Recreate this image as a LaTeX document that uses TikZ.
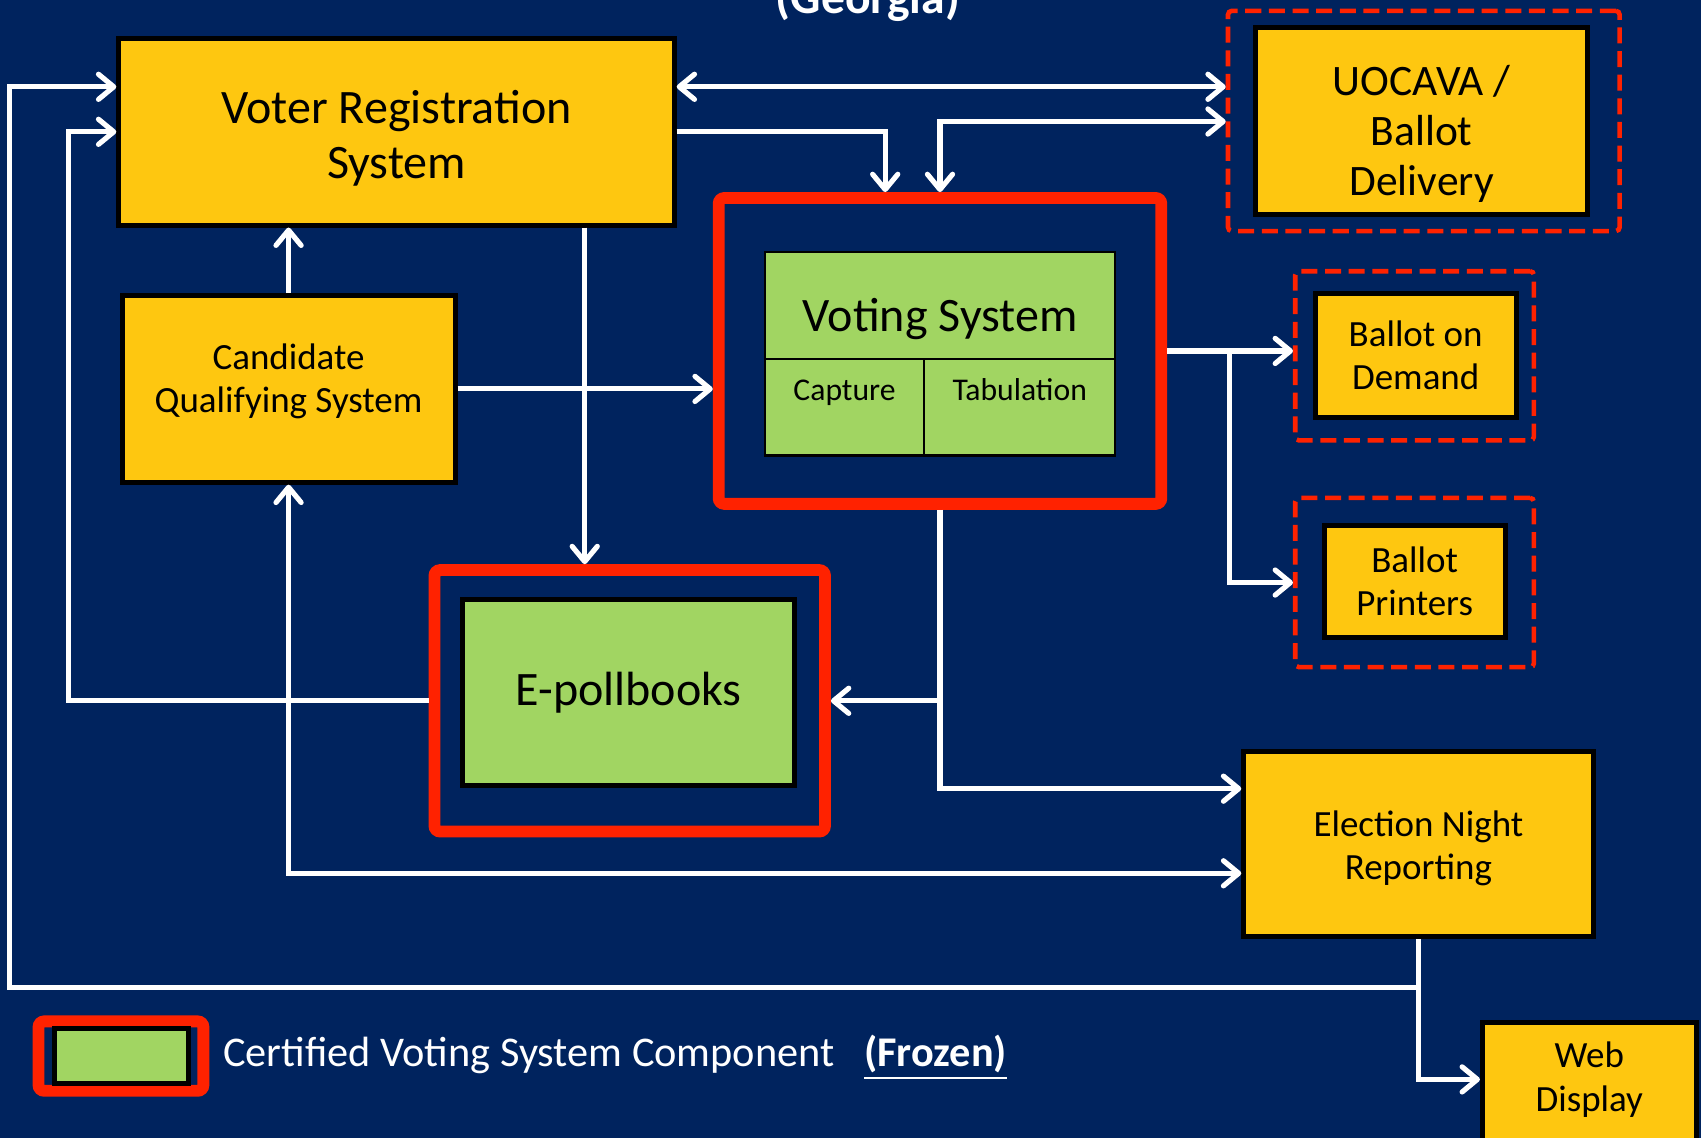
\documentclass[tikz,border=0pt]{standalone}
\usepackage{fontspec}
\setmainfont{Carlito}
\usepackage{tikz}
\usetikzlibrary{arrows.meta, positioning}

\definecolor{navy}{RGB}{0,35,94}
\definecolor{gold}{RGB}{254,199,16}
\definecolor{leaf}{RGB}{161,213,98}
\definecolor{flame}{RGB}{255,34,0}

\begin{document}
\begin{tikzpicture}[x=0.1mm, y=-0.1mm, font=\fontsize{9.7}{11.4}\selectfont,
    sys/.style={draw=black, line width=1.3pt, fill=gold, align=center, inner sep=2pt},
    cert/.style={draw=black, line width=1.3pt, fill=leaf, align=center, inner sep=2pt},
    vcell/.style={draw=black, line width=0.6pt, fill=leaf, inner sep=0pt},
    frozen/.style={draw=flame, line width=3.1pt, rounded corners=1.5pt, inner sep=0pt},
    extbox/.style={draw=flame, line width=1.2pt, dash pattern=on 4.2pt off 2pt, rounded corners=1pt, inner sep=0pt},
    barb/.tip={Straight Barb[length=4pt, width=6.6pt, round]},
    arr/.style={draw=white, line width=1.35pt, -barb},
    arrs/.style={draw=white, line width=1.35pt, barb-barb},
    bigtxt/.style={font=\fontsize{12.6}{14.5}\selectfont},
    smalltxt/.style={font=\fontsize{8.3}{10}\selectfont}]
    \useasboundingbox (0,0) rectangle (1568,1049);
    \clip (0,0) rectangle (1568,1049);
    \fill[navy] (0,0) rectangle (1568,1049);

    \node[text=white, font=\bfseries\fontsize{12.5}{15}\selectfont, anchor=base, inner sep=0pt] (ttl) at (800,12) {(Georgia)};

    % systems
    \node[sys, minimum width=51.2mm, minimum height=17.2mm] (vrs) at (365.5,121.5) {};
    \node[bigtxt, align=center] (vrstxt) at ([yshift=-0.6mm]vrs.center) {Voter Registration\\System};
    \node[extbox, minimum width=36.1mm, minimum height=20.3mm] (uocf) at (1312.5,111.5) {};
    \node[sys, minimum width=30.6mm, minimum height=17.2mm] (uoc) at (1310.5,111.5) {};
    \node[font=\fontsize{11.4}{13.1}\selectfont, align=center] (uoctxt) at ([yshift=-1.2mm]uoc.center) {UOCAVA /\\Ballot\\Delivery};
    \node[sys, minimum width=30.7mm, minimum height=17.2mm] (cqs) at (266,358.5) {};
    \node[align=center] (cqstxt) at ([yshift=0.7mm]cqs.center) {Candidate\\Qualifying System};

    \node[frozen, minimum width=40.8mm, minimum height=28.2mm] (vsf) at (866.5,323.5) {};
    \node[vcell, minimum width=32.3mm, minimum height=9.9mm] (vstop) at (866.5,281.5) {};
    \node[vcell, minimum width=14.7mm, minimum height=8.9mm] (cap) at (778.5,375.5) {};
    \node[vcell, minimum width=17.6mm, minimum height=8.9mm] (tab) at (940,375.5) {};
    \node[bigtxt, anchor=base] (vstxt) at ([yshift=-7.5mm]vstop.north) {Voting System};
    \node[smalltxt, anchor=base] (captxt) at ([yshift=-3.9mm]cap.north) {Capture};
    \node[smalltxt, anchor=base] (tabtxt) at ([yshift=-3.9mm]tab.north) {Tabulation};

    \node[extbox, minimum width=22mm, minimum height=15.6mm] (bodf) at (1304,328) {};
    \node[sys, minimum width=18.5mm, minimum height=11.4mm] (bod) at (1305,327.5) {Ballot on\\Demand};
    \node[extbox, minimum width=22mm, minimum height=15.6mm] (bpf) at (1304,537) {};
    \node[sys, minimum width=16.7mm, minimum height=10.3mm] (bp) at (1304,536) {Ballot\\Printers};

    \node[frozen, minimum width=36mm, minimum height=24.1mm] (epf) at (580.5,646) {};
    \node[cert, bigtxt, minimum width=30.6mm, minimum height=17.2mm] (ep) at (579.5,638.5) {E-pollbooks};

    \node[sys, minimum width=32.2mm, minimum height=17.1mm] (enr) at (1307.5,778) {};
    \node[align=center] (enrtxt) at ([yshift=-0.4mm]enr.center) {Election Night\\Reporting};
    \node[sys, anchor=north, minimum width=19.7mm, minimum height=14mm] (web) at (1465,940) {};
    \node[align=center] (webtxt) at ([yshift=-5.5mm]web.north) {Web\\Display};

    % legend
    \node[frozen, minimum width=15.2mm, minimum height=6.4mm] (keyf) at (111.5,973.5) {};
    \node[cert, minimum width=12.3mm, minimum height=5mm] (key) at (112,973.5) {};
    \node[text=white, font=\fontsize{11.1}{13}\selectfont, anchor=base west, inner sep=0pt] (keytxt) at (205,983) {Certified Voting System Component\hspace{0.7em}\underline{\textbf{(Frozen)}}};

    % flows
    \draw[arr] (enr.south) |- (9,910) |- (vrs.west |- 0,80);
    \draw[arr] (enr.south) |- (web.west |- 0,995);
    \draw[arr] (epf.west) -| ([xshift=-4.4mm]vrs.west) -- (vrs.west);
    \draw[arrs] (vrs.east |- 0,80) -- (uocf.west |- 0,80);
    \draw[arr] (vrs.east) -| (vsf.north -| 816,0);
    \draw[arrs] (vsf.north) |- (uocf.west |- 0,112);
    \draw[arr] (cqs.north) -- (vrs.south -| cqs.north);
    \draw[arr] (cqs.east) -- (vsf.west |- cqs.east);
    \draw[arr] (vrs.south -| 539,0) -- (epf.north -| 539,0);
    \draw[arr] (vsf.east) -- (bodf.west |- vsf.east);
    \draw[arr] (vsf.east -| 1133,0) |- (bpf.west);
    \draw[arr] (vsf.south) |- (epf.east);
    \draw[arr] (vsf.south) |- (enr.west |- 0,727);
    \draw[arrs] (cqs.south) |- (enr.west |- 0,805);
\end{tikzpicture}
\end{document}
